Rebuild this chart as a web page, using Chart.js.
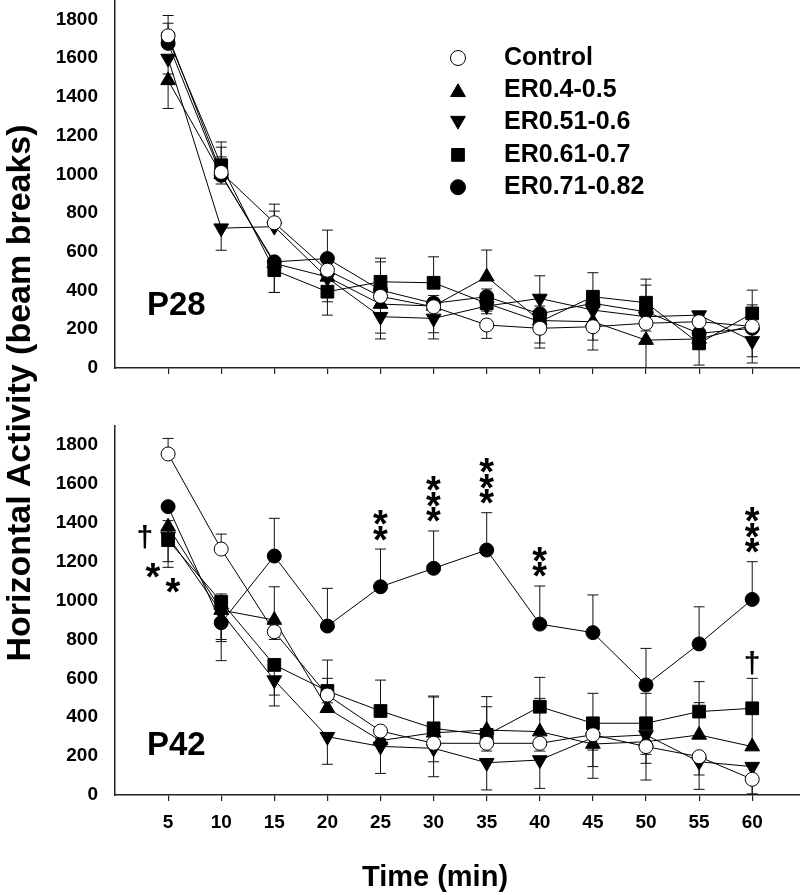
<!DOCTYPE html>
<html>
<head>
<meta charset="utf-8">
<title>Horizontal Activity P28 / P42</title>
<script src="https://cdn.jsdelivr.net/npm/chart.js@4.4.1/dist/chart.umd.min.js"></script>
<style>
    body { margin: 0; background: #fff; }
    #page { position: relative; width: 800px; height: 895px; overflow: hidden; }
    #haut { position: absolute; left: 0; top: 0; }
    #bas { position: absolute; left: 0; top: 400px; }
    #titreY {
        position: absolute; left: -334px; top: 376px; width: 700px; height: 34px;
        line-height: 34px; text-align: center; white-space: nowrap;
        font: bold 34px "Liberation Sans", Arial, sans-serif; color: #000;
        transform: rotate(-90deg);
    }
</style>
</head>
<body>
<div id="page">
    <canvas id="haut" width="800" height="400"></canvas>
    <canvas id="bas" width="800" height="495"></canvas>
    <div id="titreY">Horizontal Activity (beam breaks)</div>
</div>
<script>
const temps = [5, 10, 15, 20, 25, 30, 35, 40, 45, 50, 55, 60];
const groupes = ['Control', 'ER0.4-0.5', 'ER0.51-0.6', 'ER0.61-0.7', 'ER0.71-0.82'];
const graduationsY = [0, 200, 400, 600, 800, 1000, 1200, 1400, 1600, 1800];

// P28 - moyennes
const controleP28 = [1715, 1010, 750, 505, 370, 316, 222, 205, 213, 231, 239, 215];
const er045P28 = [1485, 1000, 540, 470, 330, 320, 471, 245, 239, 144, 150, 220];
const er0506P28 = [1598, 722, 730, 465, 265, 256, 320, 359, 299, 265, 273, 140];
const er0607P28 = [1700, 1047, 505, 394, 445, 440, 334, 239, 368, 337, 127, 282];
const er0782P28 = [1676, 995, 548, 565, 402, 334, 368, 280, 334, 290, 179, 205];

// P28 - SEM (signe = sens de la barre : + vers le haut, - vers le bas)
const errControleP28 = [105, 130, 96, -163, -50, -134, -69, -76, -69, -40, 30, 40];
const errEr045P28 = [-145, -50, -150, 60, -150, 40, 138, -40, -146, -150, -40, -194];
const errEr0506P28 = [-80, -114, 80, -60, -115, -106, -40, 117, 30, 30, 15, -82];
const errEr0607P28 = [80, 120, -115, -121, 122, 134, -40, -136, 124, 122, -112, 120];
const errEr0782P28 = [60, 95, -60, 147, 146, 40, 40, 40, 40, 138, -40, 121];

// P42 - moyennes
const controleP42 = [1754, 1265, 840, 514, 329, 266, 266, 266, 310, 249, 197, 81];
const er045P42 = [1380, 951, 900, 446, 280, 320, 334, 326, 262, 274, 309, 249];
const er0506P42 = [1330, 940, 591, 300, 250, 240, 166, 180, 295, 309, 171, 146];
const er0607P42 = [1311, 994, 669, 535, 432, 343, 309, 454, 369, 369, 429, 446];
const er0782P42 = [1483, 886, 1229, 869, 1071, 1166, 1260, 879, 835, 566, 777, 1006];

// P42 - SEM
const errControleP42 = [80, 77, -40, -40, -40, -95, -40, -40, -79, -40, -94, -90];
const errEr045P42 = [-180, -162, 171, 154, 40, 184, 172, 171, -176, -197, 166, 170];
const errEr0506P42 = [-159, -140, -133, -142, -139, -146, -140, -146, -149, -146, -142, -140];
const errEr0607P42 = [100, 40, -155, 159, 159, 166, 145, 151, 154, 154, 154, 154];
const errEr0782P42 = [15, -195, 194, 194, 194, 192, 192, 196, 194, 188, 191, 194];

// Significativité P42 (ER0.71-0.82 vs contrôle)
const etoilesTemps = [25, 30, 35, 40, 60];
const etoilesTexte = ['**', '***', '***', '**', '***'];

const police = '"Liberation Sans", Arial, Helvetica, sans-serif';

const styles = [
    { forme: 'circle', rayon: 7, fond: '#fff', rotation: 0 },
    { forme: 'triangle', rayon: 8.5, fond: '#000', rotation: 0 },
    { forme: 'triangle', rayon: 8.5, fond: '#000', rotation: 180 },
    { forme: 'rect', rayon: 9, fond: '#000', rotation: 0 },
    { forme: 'circle', rayon: 7, fond: '#000', rotation: 0 }
];

function creerDatasets(series, erreurs) {
    return series.map((valeurs, i) => ({
        label: groupes[i],
        data: temps.map((t, k) => ({ x: t, y: valeurs[k] })),
        erreurs: erreurs[i],
        borderColor: '#000',
        borderWidth: 1,
        pointStyle: styles[i].forme,
        pointRadius: styles[i].rayon,
        pointRotation: styles[i].rotation,
        pointBackgroundColor: styles[i].fond,
        pointBorderColor: '#000',
        pointBorderWidth: 1,
        fill: false,
        tension: 0
    }));
}

function creerAxes(avecEtiquettes) {
    return {
        x: {
            type: 'linear', min: 0, max: 64.5,
            ticks: {
                display: avecEtiquettes, stepSize: 5, color: '#000', padding: 10,
                font: { family: police, size: 19, weight: 'bold' },
                callback: v => String(v)
            },
            grid: { display: true, drawOnChartArea: false, drawTicks: true, tickLength: 6, color: '#222', lineWidth: 1.2 },
            border: { display: true, color: '#222', width: 1.5 },
            afterBuildTicks: s => {
                s.ticks = temps.map(t => ({ value: t }));
            },
            afterFit: s => {
                s.height = avecEtiquettes ? 100 : 32;
                s.paddingLeft = 0;
                s.paddingRight = 0;
            }
        },
        y: {
            min: 0, max: 1900,
            ticks: {
                color: '#000', padding: 17,
                font: { family: police, size: 19, weight: 'bold' },
                callback: v => String(v)
            },
            grid: { display: false, drawTicks: false },
            border: { display: true, color: '#222', width: 1.5 },
            afterBuildTicks: s => {
                s.ticks = graduationsY.map(v => ({ value: v }));
            },
            afterFit: s => {
                s.width = 115;
                s.paddingTop = 0;
                s.paddingBottom = 0;
            }
        }
    };
}

// Barres d'erreur (un seul sens par point)
const barresErreur = {
    id: 'barresErreur',
    beforeDatasetsDraw(chart) {
        const ctx = chart.ctx;
        const echelle = chart.scales.y;
        const zone = chart.chartArea;
        ctx.save();
        ctx.beginPath();
        ctx.rect(zone.left, zone.top, zone.right - zone.left, zone.bottom - zone.top);
        ctx.clip();
        ctx.strokeStyle = '#111';
        ctx.lineWidth = 1;
        chart.data.datasets.forEach((ds, i) => {
            chart.getDatasetMeta(i).data.forEach((pt, k) => {
                const fin = echelle.getPixelForValue(ds.data[k].y + ds.erreurs[k]);
                ctx.beginPath();
                ctx.moveTo(pt.x, pt.y);
                ctx.lineTo(pt.x, fin);
                ctx.moveTo(pt.x - 5.5, fin);
                ctx.lineTo(pt.x + 5.5, fin);
                ctx.stroke();
            });
        });
        ctx.restore();
    }
};

function dessinerSymbole(ctx, i, x, y) {
    const s = styles[i];
    ctx.beginPath();
    if (s.forme === 'circle') {
        ctx.arc(x, y, s.rayon + 0.5, 0, 2 * Math.PI);
    } else if (s.forme === 'rect') {
        const c = s.rayon * Math.SQRT1_2;
        ctx.rect(x - c, y - c, 2 * c, 2 * c);
    } else {
        let a = s.rotation * Math.PI / 180;
        for (let n = 0; n < 3; n++) {
            const px = x + Math.sin(a) * s.rayon, py = y - Math.cos(a) * s.rayon;
            if (n === 0) ctx.moveTo(px, py); else ctx.lineTo(px, py);
            a += 2 * Math.PI / 3;
        }
        ctx.closePath();
    }
    ctx.fillStyle = s.fond;
    ctx.fill();
    ctx.strokeStyle = '#000';
    ctx.lineWidth = 1;
    ctx.stroke();
}

const legende = {
    id: 'legende',
    afterDraw(chart) {
        const ctx = chart.ctx;
        ctx.save();
        ctx.font = `bold 25px ${police}`;
        ctx.fillStyle = '#000';
        ctx.textBaseline = 'middle';
        ctx.textAlign = 'left';
        groupes.forEach((g, i) => {
            const y = 58 + i * 32.3;
            dessinerSymbole(ctx, i, 458, y + (styles[i].forme === 'triangle' ? (i === 1 ? 2 : -2) : 0));
            ctx.fillStyle = '#000';
            ctx.fillText(g, 504, y);
        });
        ctx.restore();
    }
};

// étiquette du panneau (P28 / P42) et, en bas, titre de l'axe X
const etiquettePanneau = {
    id: 'etiquettePanneau',
    afterDraw(chart, args, opts) {
        const ctx = chart.ctx;
        ctx.save();
        ctx.font = `bold 33px ${police}`;
        ctx.fillStyle = '#000';
        ctx.textBaseline = 'alphabetic';
        ctx.textAlign = 'left';
        ctx.fillText(opts.texte, opts.x, opts.y);
        if (opts.titreX) {
            ctx.font = `bold 29px ${police}`;
            ctx.textAlign = 'center';
            ctx.textBaseline = 'middle';
            ctx.fillText(opts.titreX, 435, 478);
        }
        ctx.restore();
    }
};

// écrit un caractère centré sur son encre
function ecrireCentre(ctx, texte, cx, cy, font) {
    ctx.font = font;
    ctx.textAlign = 'left';
    ctx.textBaseline = 'alphabetic';
    const m = ctx.measureText(texte);
    const x = cx - (m.actualBoundingBoxRight - m.actualBoundingBoxLeft) / 2;
    const y = cy + (m.actualBoundingBoxAscent - m.actualBoundingBoxDescent) / 2;
    ctx.fillText(texte, x, y);
}

const notesP42 = {
    id: 'notesP42',
    afterDatasetsDraw(chart) {
        const ctx = chart.ctx;
        const ds = chart.data.datasets;
        const echelle = chart.scales.y;
        const cercles = chart.getDatasetMeta(4).data;
        const carres = chart.getDatasetMeta(3).data;
        const policeEtoile = `bold 38px ${police}`;
        const policeCroix = `bold 30px ${police}`;
        ctx.save();
        ctx.fillStyle = '#000';
        etoilesTemps.forEach((t, m) => {
            const k = temps.indexOf(t);
            const haut = echelle.getPixelForValue(ds[4].data[k].y + ds[4].erreurs[k]);
            for (let n = 0; n < etoilesTexte[m].length; n++) {
                ecrireCentre(ctx, '*', cercles[k].x, haut - 16 - n * 15.5, policeEtoile);
            }
        });
        // à 5 min
        const c5 = carres[0];
        ecrireCentre(ctx, '\u2020', c5.x - 23, c5.y - 3, policeCroix);
        ecrireCentre(ctx, '*', c5.x - 15, c5.y + 30, policeEtoile);
        ecrireCentre(ctx, '*', c5.x + 5, c5.y + 45, policeEtoile);
        // à 60 min, au-dessus de ER0.61-0.7
        const k60 = temps.indexOf(60);
        const haut60 = echelle.getPixelForValue(ds[3].data[k60].y + ds[3].erreurs[k60]);
        ecrireCentre(ctx, '\u2020', carres[k60].x, haut60 - 15, policeCroix);
        ctx.restore();
    }
};

function creerGraphique(id, series, erreurs, avecEtiquettes, panneau, plugins, hautZone) {
    return new Chart(document.getElementById(id), {
        type: 'line',
        data: { datasets: creerDatasets(series, erreurs) },
        options: {
            responsive: false,
            animation: false,
            devicePixelRatio: 1,
            layout: { autoPadding: false, padding: { top: hautZone, left: 0, right: 0, bottom: 0 } },
            scales: creerAxes(avecEtiquettes),
            plugins: {
                legend: { display: false },
                tooltip: { enabled: false },
                etiquettePanneau: panneau
            }
        },
        plugins: [barresErreur, etiquettePanneau].concat(plugins)
    });
}

document.addEventListener('DOMContentLoaded', function() {
    creerGraphique('haut',
        [controleP28, er045P28, er0506P28, er0607P28, er0782P28],
        [errControleP28, errEr045P28, errEr0506P28, errEr0607P28, errEr0782P28],
        false, { texte: 'P28', x: 147, y: 315 }, [legende], 0);

    creerGraphique('bas',
        [controleP42, er045P42, er0506P42, er0607P42, er0782P42],
        [errControleP42, errEr045P42, errEr0506P42, errEr0607P42, errEr0782P42],
        true, { texte: 'P42', x: 147, y: 355, titreX: 'Time (min)' }, [notesP42], 25.6);
});
</script>
</body>
</html>
